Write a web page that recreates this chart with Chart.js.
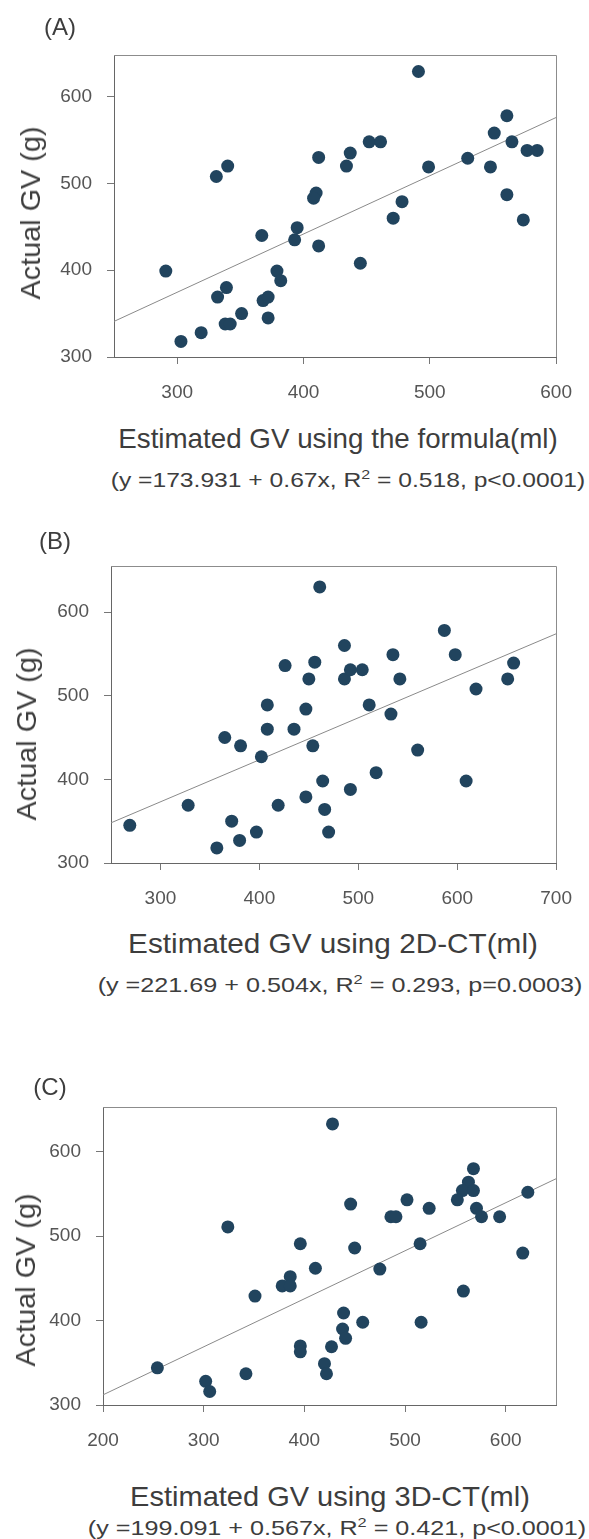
<!DOCTYPE html>
<html>
<head>
<meta charset="utf-8">
<script src="https://cdn.jsdelivr.net/npm/chart.js@4.4.1/dist/chart.umd.min.js"></script>
<style>
body { margin: 0; background: #fff; }
#fig { position: relative; width: 589px; height: 1539px; overflow: hidden;
       font-family: 'Liberation Sans', Arial, sans-serif; color: #3d3d3d; }
#fig canvas { position: absolute; left: 0; }
.txt { position: absolute; white-space: nowrap; line-height: 1; transform: translate(-50%, -50%); }
.lab { font-size: 24px; }
.ttl { font-size: 28px; }
.eq { font-size: 21px; }
.eq sup { font-size: 65%; vertical-align: 0.55em; line-height: 0; }
</style>
</head>
<body>
<div id="fig">
  <canvas id="chartA" width="589" height="420" style="top:0px"></canvas>
  <canvas id="chartB" width="589" height="420" style="top:500px"></canvas>
  <canvas id="chartC" width="589" height="420" style="top:1040px"></canvas>

  <div class="txt lab" style="left:60px;top:27px">(A)</div>
  <div class="txt ttl fit rot" data-w="173" style="left:31px;top:213px">Actual GV (g)</div>
  <div class="txt ttl fit" data-w="440" style="left:338px;top:439px">Estimated GV using the formula(ml)</div>
  <div class="txt eq fit" data-w="475" style="left:348px;top:479px">(y =173.931 + 0.67x, R<sup>2</sup> = 0.518, p&lt;0.0001)</div>

  <div class="txt lab" style="left:55px;top:541px">(B)</div>
  <div class="txt ttl fit rot" data-w="173" style="left:27px;top:734px">Actual GV (g)</div>
  <div class="txt ttl fit" data-w="410" style="left:333px;top:944px">Estimated GV using 2D-CT(ml)</div>
  <div class="txt eq fit" data-w="485" style="left:340px;top:984px">(y =221.69 + 0.504x, R<sup>2</sup> = 0.293, p=0.0003)</div>

  <div class="txt lab" style="left:50px;top:1087px">(C)</div>
  <div class="txt ttl fit rot" data-w="173" style="left:26px;top:1280px">Actual GV (g)</div>
  <div class="txt ttl fit" data-w="400" style="left:330px;top:1497px">Estimated GV using 3D-CT(ml)</div>
  <div class="txt eq fit" data-w="498" style="left:337px;top:1527px">(y =199.091 + 0.567x, R<sup>2</sup> = 0.421, p&lt;0.0001)</div>
</div>
<script>
// tick labels
const xTicksA = [300, 400, 500, 600];
const xTicksB = [300, 400, 500, 600, 700];
const xTicksC = [200, 300, 400, 500, 600];
const yTicks = [300, 400, 500, 600];

// (A) estimated by formula vs actual
const formulaX = [491, 561, 551, 452, 461, 565, 577, 585, 437, 412, 530, 434, 499, 548, 340, 331, 410, 408, 561, 478,
                  471, 574, 367, 395, 393, 412, 445, 291, 379, 382, 339, 332, 368, 372, 351, 372, 338, 342, 319, 303];
const formulaY = [629, 578, 558, 548, 548, 548, 538, 538, 535, 530, 529, 520, 519, 519, 520, 508, 489, 483, 487, 479,
                  460, 458, 440, 449, 435, 428, 408, 399, 399, 388, 380, 369, 365, 369, 350, 345, 338, 338, 328, 318];
const fitAx = [250, 600];
const fitAy = [341, 576];

// (B) 2D-CT
const ct2dX = [461, 587, 598, 486, 535, 426, 456, 657, 450, 486, 492, 504, 542, 651, 619, 408, 511, 447, 533, 365,
               408, 435, 381, 454, 402, 560, 518, 464, 609, 492, 328, 419, 447, 466, 269, 372, 397, 470, 380, 357];
const ct2dY = [630, 578, 549, 560, 549, 536, 540, 539, 520, 520, 531, 531, 520, 520, 508, 489, 489, 484, 478, 450,
               460, 460, 440, 440, 427, 435, 408, 398, 398, 388, 369, 369, 379, 364, 345, 350, 337, 337, 327, 318];
const fitBx = [250, 700];
const fitBy = [348, 574];

// (C) 3D-CT
const ct3dX = [428, 568, 563, 557, 568, 552, 502, 446, 622, 524, 571, 486, 491, 576, 594, 324, 396, 450, 515, 617, 411,
               475, 378, 386, 386, 351, 558, 439, 458, 516, 438, 441, 396, 396, 427, 420, 422, 254, 342, 302, 306];
const ct3dY = [633, 580, 564, 554, 554, 543, 543, 538, 552, 533, 533, 523, 523, 523, 523, 511, 491, 486, 491, 480, 462,
               461, 441, 452, 441, 429, 435, 409, 398, 398, 390, 379, 370, 363, 369, 349, 337, 344, 337, 328, 316];
const fitCx = [200, 650];
const fitCy = [312, 568];

const FONT = "'Liberation Sans', Arial, sans-serif";

// top and right edges of the box
const frame = {
    id: 'frame',
    beforeDatasetsDraw(chart) {
        const a = chart.chartArea, ctx = chart.ctx;
        ctx.save();
        ctx.strokeStyle = '#8c8c8c';
        ctx.lineWidth = 1;
        ctx.beginPath();
        ctx.moveTo(a.left, Math.round(a.top) + 0.5);
        ctx.lineTo(Math.round(a.right) + 0.5, Math.round(a.top) + 0.5);
        ctx.lineTo(Math.round(a.right) + 0.5, a.bottom);
        ctx.stroke();
        ctx.restore();
    }
};

function makeChart(id, xs, ys, fitX, fitY, xTicks, box) {
    const pts = xs.map((x, i) => ({x: x, y: ys[i]}));
    const fit = fitX.map((x, i) => ({x: x, y: fitY[i]}));
    const tickFont = {family: FONT, size: 19};
    return new Chart(document.getElementById(id), {
        type: 'scatter',
        data: {
            datasets: [{
                data: pts,
                backgroundColor: '#21445e',
                borderColor: '#21445e',
                borderWidth: 0,
                pointRadius: 6.5,
                order: 1
            }, {
                data: fit,
                showLine: true,
                borderColor: '#8a8a8a',
                borderWidth: 1,
                pointRadius: 0,
                order: 2
            }]
        },
        options: {
            responsive: false,
            animation: false,
            layout: {padding: {top: box.top, right: box.right, left: 0, bottom: 0}},
            plugins: {legend: {display: false}, tooltip: {enabled: false}},
            scales: {
                x: {
                    type: 'linear', min: box.xMin, max: box.xMax,
                    afterBuildTicks: s => { s.ticks = xTicks.map(v => ({value: v})); },
                    afterFit: s => { s.height = box.xh; },
                    grid: {drawOnChartArea: false, tickLength: 7, color: '#777'},
                    border: {color: '#666', width: 1},
                    ticks: {padding: 17, color: '#555', font: tickFont}
                },
                y: {
                    type: 'linear', min: 300, max: box.yMax,
                    afterBuildTicks: s => { s.ticks = yTicks.map(v => ({value: v})); },
                    afterFit: s => { s.width = box.yw; },
                    grid: {drawOnChartArea: false, tickLength: 7, color: '#777'},
                    border: {color: '#666', width: 1},
                    ticks: {padding: 15, color: '#555', font: tickFont}
                }
            }
        },
        plugins: [frame]
    });
}

makeChart('chartA', formulaX, formulaY, fitAx, fitAy, xTicksA,
    {top: 55, right: 24, yw: 114, xh: 63, xMin: 250, xMax: 600, yMax: 648});
makeChart('chartB', ct2dX, ct2dY, fitBx, fitBy, xTicksB,
    {top: 66, right: 27, yw: 111, xh: 57, xMin: 250, xMax: 700, yMax: 655});
makeChart('chartC', ct3dX, ct3dY, fitCx, fitCy, xTicksC,
    {top: 67, right: 33, yw: 103, xh: 55, xMin: 200, xMax: 650, yMax: 653});

// stretch the text to the widths measured on the picture
document.querySelectorAll('.fit').forEach(el => {
    const k = (+el.dataset.w) / el.offsetWidth;
    const rot = el.classList.contains('rot') ? ' rotate(-90deg)' : '';
    el.style.transform = 'translate(-50%, -50%)' + rot + ' scaleX(' + k.toFixed(3) + ')';
});
</script>
</body>
</html>
